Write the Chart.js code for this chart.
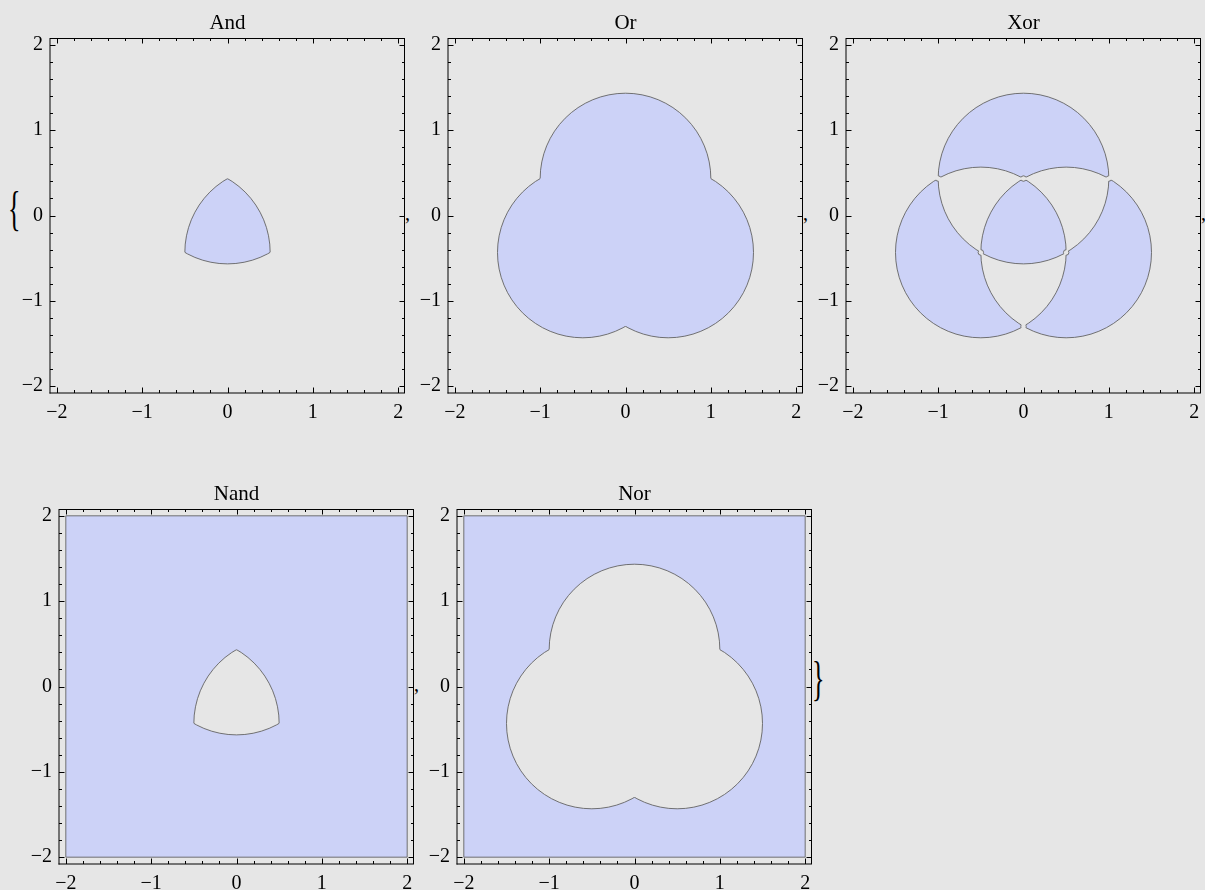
<!DOCTYPE html>
<html>
<head>
<meta charset="utf-8">
<script src="https://cdn.jsdelivr.net/npm/chart.js@4.4.1/dist/chart.umd.min.js"></script>
<style>
  html, body { margin: 0; padding: 0; width: 1205px; height: 890px; overflow: hidden; background: #e6e6e6; }
  canvas { position: absolute; }
  .txt { position: absolute; font-family: "Liberation Serif", "Times New Roman", serif; color: #000; white-space: nowrap; line-height: 1; }
</style>
</head>
<body>
<div class="txt" style="left:8px; top:197px; font-size:26px; transform:scaleY(1.84); transform-origin:50% 50%;">{</div>
<div class="txt" style="left:405px; top:203px; font-size:20px;">,</div>
<div class="txt" style="left:803px; top:203px; font-size:20px;">,</div>
<div class="txt" style="left:1201px; top:203px; font-size:20px;">,</div>
<div class="txt" style="left:414px; top:674px; font-size:20px;">,</div>
<div class="txt" style="left:812px; top:667px; font-size:26px; transform:scaleY(1.84); transform-origin:50% 50%;">}</div>

<script>
// ---------------- data ----------------
const panelTitles = ['And', 'Or', 'Xor', 'Nand', 'Nor'];
const panelOps = ['and', 'or', 'xor', 'nand', 'nor'];
// three unit circles (the inequalities being combined)
const circleCenterX = [0, -0.5, 0.5];
const circleCenterY = [0.433, -0.433, -0.433];
const circleRadius = [1, 1, 1];
// plotted domain and padded axis range
const regionDomain = [-2, 2];
const axisRange = [-2.08, 2.08];
// tick values
const majorTicks = [-2, -1, 0, 1, 2];
const minorTicks = [-1.8, -1.6, -1.4, -1.2, -0.8, -0.6, -0.4, -0.2, 0.2, 0.4, 0.6, 0.8, 1.2, 1.4, 1.6, 1.8];
// small sampling gaps visible in the Xor panel (at the circle crossings)
const xorGapX = [-1, 1, 0, 0, -0.5, 0.5];
const xorGapY = [0.433, 0.433, -1.299, 0.433, -0.433, -0.433];

// ---------------- layout / style ----------------
const FONT = '"Liberation Serif", "Times New Roman", serif';
const FILL = 'rgb(204,210,247)';
const EDGE = 'rgba(100,100,100,0.9)';
const panelFrames = [[50, 38], [448, 38], [846, 38], [59, 509], [457, 509]];
const FRAME = 355, YAXW = 45, XAXH = 40, TOPH = 32, PADR = 14;

function fmtTick(v) {
  return v < 0 ? '\u2212' + Math.abs(v) : String(v);
}

const regionPlugin = {
  id: 'regionPlot',
  beforeDatasetsDraw(chart, args, opts) {
    const { ctx, chartArea: a } = chart;
    const xs = chart.scales.x, ys = chart.scales.y;
    const W = chart.width, H = chart.height;
    const C = circleCenterX.map((cx, k) => {
      const cy = circleCenterY[k], r = circleRadius[k];
      const px = xs.getPixelForValue(cx), py = ys.getPixelForValue(cy);
      return { px, py,
        rx: Math.abs(xs.getPixelForValue(cx + r) - px),
        ry: Math.abs(ys.getPixelForValue(cy + r) - py) };
    });
    const sx0 = xs.getPixelForValue(regionDomain[0]), sx1 = xs.getPixelForValue(regionDomain[1]);
    const sy0 = ys.getPixelForValue(regionDomain[1]), sy1 = ys.getPixelForValue(regionDomain[0]);
    const add = c => { ctx.moveTo(c.px + c.rx, c.py); ctx.ellipse(c.px, c.py, c.rx, c.ry, 0, 0, Math.PI * 2); };
    const clipIn = c => { ctx.beginPath(); add(c); ctx.clip(); };
    const clipOut = c => { ctx.beginPath(); ctx.rect(-10, -10, W + 20, H + 20); add(c); ctx.clip('evenodd'); };
    const others = i => [0, 1, 2].filter(j => j !== i);
    const fillAnd = () => { ctx.save(); clipIn(C[1]); clipIn(C[2]); ctx.beginPath(); add(C[0]); ctx.fill(); ctx.restore(); };
    const fillOr = () => { ctx.beginPath(); C.forEach(add); ctx.fill('nonzero'); };
    const strokeAnd = () => C.forEach((c, i) => { ctx.save(); others(i).forEach(j => clipIn(C[j])); ctx.beginPath(); add(c); ctx.stroke(); ctx.restore(); });
    const strokeOr = () => C.forEach((c, i) => { ctx.save(); others(i).forEach(j => clipOut(C[j])); ctx.beginPath(); add(c); ctx.stroke(); ctx.restore(); });
    const square = () => { ctx.beginPath(); ctx.rect(sx0, sy0, sx1 - sx0, sy1 - sy0); };

    ctx.save();
    ctx.beginPath(); ctx.rect(a.left, a.top, a.right - a.left, a.bottom - a.top); ctx.clip();
    ctx.fillStyle = FILL; ctx.strokeStyle = EDGE; ctx.lineWidth = 1;
    const op = opts.op;
    if (op === 'and') {
      fillAnd(); strokeAnd();
    } else if (op === 'or') {
      fillOr(); strokeOr();
    } else if (op === 'xor') {
      const G = xorGapX.map((gx, k) => ({ px: xs.getPixelForValue(gx), py: ys.getPixelForValue(xorGapY[k]) }));
      const GR = Math.abs(xs.getPixelForValue(0.032) - xs.getPixelForValue(0));
      const addGaps = () => G.forEach(g => { ctx.moveTo(g.px + GR, g.py); ctx.arc(g.px, g.py, GR, 0, Math.PI * 2); });
      ctx.save();
      ctx.beginPath(); ctx.rect(-10, -10, W + 20, H + 20); addGaps(); ctx.clip('evenodd');
      ctx.beginPath(); C.forEach(add); ctx.fill('evenodd'); ctx.stroke();
      ctx.restore();
      ctx.save();
      ctx.beginPath(); C.forEach(add); ctx.clip('evenodd');
      ctx.beginPath(); addGaps(); ctx.stroke();
      ctx.restore();
    } else if (op === 'nand') {
      square(); ctx.fill();
      ctx.save(); ctx.globalCompositeOperation = 'destination-out'; ctx.fillStyle = '#000'; fillAnd(); ctx.restore();
      strokeAnd(); square(); ctx.stroke();
    } else if (op === 'nor') {
      square(); ctx.fill();
      ctx.save(); ctx.globalCompositeOperation = 'destination-out'; ctx.fillStyle = '#000'; fillOr(); ctx.restore();
      strokeOr(); square(); ctx.stroke();
    }
    ctx.restore();
  }
};

const framePlugin = {
  id: 'mmaFrame',
  afterDraw(chart) {
    const { ctx, chartArea: a } = chart;
    const xs = chart.scales.x, ys = chart.scales.y;
    ctx.save();
    ctx.strokeStyle = '#000'; ctx.lineWidth = 1;
    ctx.beginPath();
    ctx.moveTo(a.left, a.top); ctx.lineTo(a.left, a.bottom + 0.5);
    ctx.moveTo(a.right - 0.5, a.top); ctx.lineTo(a.right - 0.5, a.bottom);
    ctx.moveTo(a.left, a.top + 0.5); ctx.lineTo(a.right, a.top + 0.5);
    ctx.moveTo(a.left - 0.5, a.bottom); ctx.lineTo(a.right, a.bottom);
    const tick = (v, len) => {
      const px = Math.round(xs.getPixelForValue(v)) + 0.5;
      ctx.moveTo(px, a.bottom); ctx.lineTo(px, a.bottom - len);
      ctx.moveTo(px, a.top); ctx.lineTo(px, a.top + len);
      const py = Math.round(ys.getPixelForValue(v)) + 0.5;
      ctx.moveTo(a.left, py); ctx.lineTo(a.left + len, py);
      ctx.moveTo(a.right, py); ctx.lineTo(a.right - len, py);
    };
    majorTicks.forEach(v => tick(v, 5.5));
    minorTicks.forEach(v => tick(v, 3));
    ctx.stroke();
    ctx.restore();
  }
};

function axisCfg(horizontal) {
  return {
    type: 'linear',
    min: axisRange[0], max: axisRange[1],
    grid: { display: false, drawTicks: false },
    border: { display: false },
    ticks: {
      color: '#000', font: { family: FONT, size: 20 }, padding: horizontal ? 8 : 7,
      autoSkip: false, maxRotation: 0, minRotation: 0,
      callback: v => fmtTick(v)
    },
    afterBuildTicks: s => { s.ticks = majorTicks.map(v => ({ value: v })); },
    afterFit: s => { if (horizontal) s.height = XAXH; else s.width = YAXW; }
  };
}

panelTitles.forEach((title, i) => {
  const [fl, ft] = panelFrames[i];
  const cv = document.createElement('canvas');
  cv.width = YAXW + FRAME + PADR;
  cv.height = TOPH + FRAME + XAXH;
  cv.style.left = (fl - YAXW) + 'px';
  cv.style.top = (ft - TOPH) + 'px';
  document.body.appendChild(cv);
  new Chart(cv, {
    type: 'scatter',
    data: { datasets: [] },
    options: {
      responsive: false, animation: false, events: [],
      layout: { padding: { left: 0, right: PADR, top: 5, bottom: 0 } },
      plugins: {
        legend: { display: false },
        tooltip: { enabled: false },
        title: {
          display: true, text: title, fullSize: false, color: '#000',
          font: { family: FONT, size: 21, weight: 'normal' },
          padding: { top: 0, bottom: 1.8 }
        },
        regionPlot: { op: panelOps[i] }
      },
      scales: { x: axisCfg(true), y: axisCfg(false) }
    },
    plugins: [regionPlugin, framePlugin]
  });
});
</script>
</body>
</html>
